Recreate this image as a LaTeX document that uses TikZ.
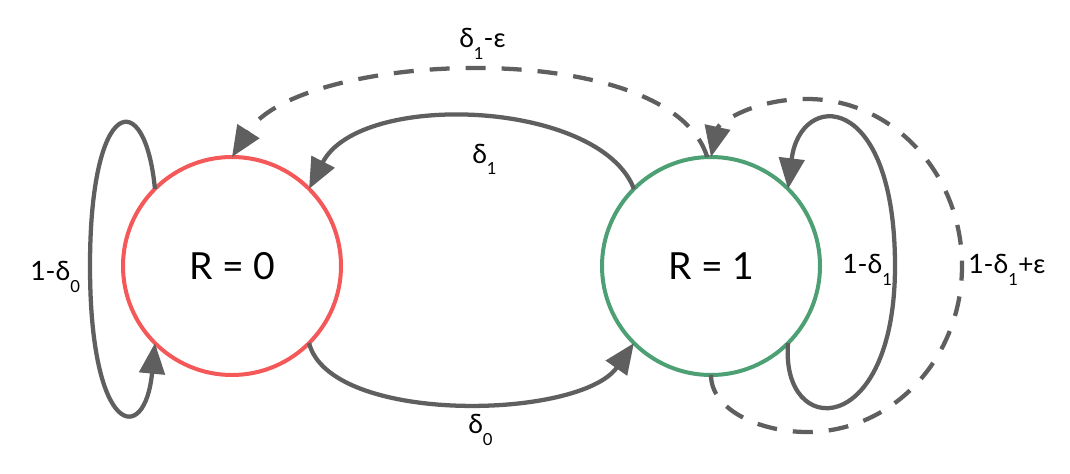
\documentclass[tikz,border=0pt]{standalone}
\usepackage{fontspec}
\setmainfont{Lato}
\usetikzlibrary{arrows.meta}
\definecolor{edgegray}{RGB}{95,95,95}
\definecolor{redc}{RGB}{244,88,88}
\definecolor{greenc}{RGB}{77,160,116}
\newcommand\lsub[1]{\raisebox{-9pt}{\fontsize{12.5}{14}\selectfont #1}}
\begin{document}
\begin{tikzpicture}[x=0.75pt,y=-0.75pt,
  state/.style={circle, line width=3pt, minimum size=163.5pt, inner sep=0pt, outer sep=0pt, font=\fontsize{28}{32}\selectfont},
  edge/.style={line width=3.2pt, draw=edgegray, -{Triangle[length=23pt,width=19pt]}},
  dashedge/.style={edge, dash pattern=on 15pt off 12pt},
  lbl/.style={font=\fontsize{20}{24}\selectfont, inner sep=0pt, anchor=base west}
]
\useasboundingbox (0,0) rectangle (1070,474);
\fill[white] (0,0) rectangle (1070,474);
\node[state, draw=redc] (r0) at (232,266) {R = 0};
\node[state, draw=greenc] (r1) at (711,266) {R = 1};
% self loop R=0
\draw[edge] (r0.135) .. controls (145,85) and (90,95) .. (90,266)
  .. controls (90,437) and (145,447) .. (r0.225);
% delta_1
\draw[edge] (r1.135) .. controls (600,100) and (360,90) .. (r0.45);
% delta_0
\draw[edge] (r0.-45) .. controls (330,425) and (580,420) .. (r1.-135);
% delta_1 - eps
\draw[dashedge] (r1.92) .. controls (670,35) and (300,50) .. (r0.90);
% big dashed loop
\draw[dashedge] (r1.270) .. controls (711,410) and (760,432) .. (807,432)
  .. controls (893,432) and (962,358) .. (962,266)
  .. controls (962,174) and (893,99) .. (807,99)
  .. controls (750,99) and (718,125) .. (r1.90);
% self loop R=1
\draw[edge] (r1.-45) .. controls (780,440) and (895,440) .. (895,266)
  .. controls (895,90) and (800,90) .. (r1.45);
% labels
\node[lbl] (l0) at (30,280) {1-δ\lsub{0}};
\node[lbl] (ld1) at (472,163) {δ\lsub{1}};
\node[lbl] (ld1e) at (459,48) {δ\lsub{1}-ε};
\node[lbl] (ld0) at (468,433) {δ\lsub{0}};
\node[lbl] (l1) at (842,273) {1-δ\lsub{1}};
\node[lbl] (l1e) at (968,273) {1-δ\lsub{1}+ε};
\end{tikzpicture}
\end{document}
